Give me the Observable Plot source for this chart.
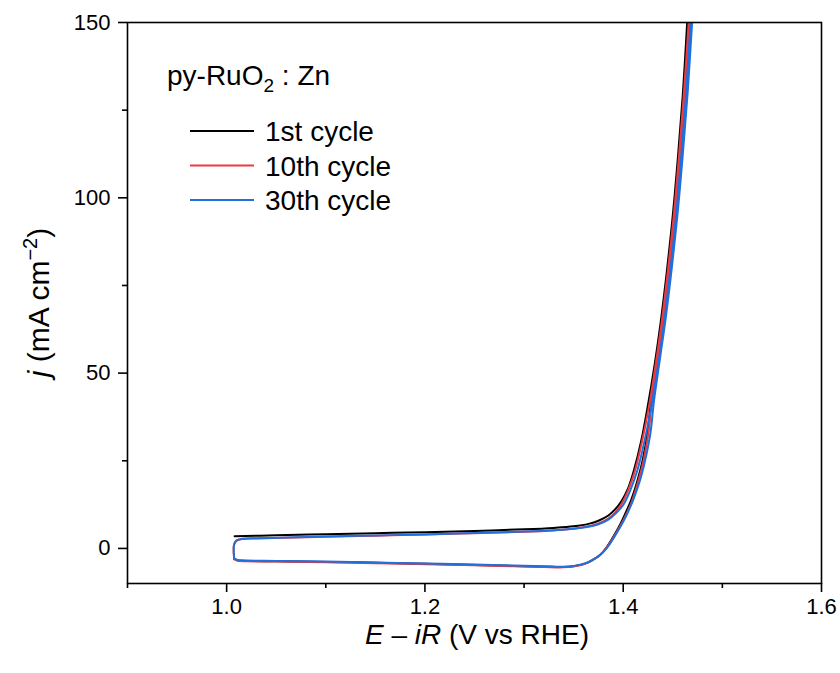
<!DOCTYPE html>
<html>
<head>
<meta charset="utf-8">
<script src="https://cdn.jsdelivr.net/npm/d3@7"></script>
<script src="https://cdn.jsdelivr.net/npm/@observablehq/plot@0.6"></script>
<style>
  html, body { margin: 0; padding: 0; background: #fff; }
  #chart { width: 840px; height: 673px; position: relative; }
  svg { font-family: "Liberation Sans", Arial, sans-serif; }
</style>
</head>
<body>
<div id="chart"></div>
<script>
// ---- data (E − iR in V vs RHE, j in mA cm^-2) ----
const seriesNames = ["1st cycle", "10th cycle", "30th cycle"];
const seriesColors = ["#000000", "#ee3a3f", "#1f6fdc"];

const cycle1 = [
  [1.008,3.5],[1.05,3.75],[1.10,4.05],[1.15,4.35],[1.20,4.65],[1.25,5.0],[1.30,5.45],[1.33,5.85],
  [1.35,6.3],[1.365,7.0],[1.375,7.9],[1.385,9.4],[1.392,11.2],[1.398,13.4],[1.405,17.2],[1.411,22.5],
  [1.418,30.5],[1.425,41],[1.432,53],[1.438,65],[1.444,79],[1.450,95],[1.455,111],[1.460,129],
  [1.4645,150],[1.4675,164],
  [1.4695,164],[1.466,150],[1.4615,130],[1.457,112],[1.452,96],[1.446,80],[1.440,66],[1.434,54],
  [1.428,42],[1.4245,33],[1.4195,25],[1.414,19],[1.408,13.8],[1.402,9.9],[1.3965,6.6],[1.390,3.3],
  [1.383,0.2],[1.376,-2.0],[1.369,-3.3],[1.361,-4.4],[1.351,-5.0],[1.340,-5.3],[1.32,-5.2],[1.29,-5.0],
  [1.25,-4.7],[1.20,-4.4],[1.15,-4.1],[1.10,-3.85],[1.05,-3.65],[1.02,-3.55],[1.011,-3.4],[1.0075,-3.0]
];

const cycle10 = [
  [1.0075,-2.7],[1.0075,1.0],[1.010,2.2],[1.016,2.7],[1.03,2.85],[1.06,3.05],[1.10,3.35],[1.15,3.65],
  [1.20,3.95],[1.25,4.35],[1.30,4.75],[1.33,5.15],[1.35,5.6],[1.365,6.3],[1.375,7.1],[1.385,8.5],
  [1.392,10.3],[1.398,12.5],[1.405,16.6],[1.412,22.3],[1.419,30.5],[1.426,40.5],[1.433,53],[1.439,65],
  [1.445,79],[1.451,95],[1.456,111],[1.461,129],[1.466,150],[1.469,164],
  [1.471,164],[1.4675,150],[1.463,130],[1.458,112],[1.453,96],[1.447,80],[1.441,66],[1.435,54],
  [1.429,42],[1.4255,33],[1.4205,25],[1.415,19],[1.409,13.6],[1.403,9.7],[1.397,6.4],[1.390,3.1],
  [1.383,0.1],[1.376,-2.0],[1.369,-3.3],[1.361,-4.4],[1.351,-5.1],[1.339,-5.4],[1.32,-5.3],[1.29,-5.1],
  [1.25,-4.8],[1.20,-4.5],[1.15,-4.2],[1.10,-3.95],[1.05,-3.75],[1.02,-3.65],[1.011,-3.5],[1.0075,-3.0]
];

const cycle30 = [
  [1.0075,-2.6],[1.0075,1.2],[1.010,2.3],[1.016,2.75],[1.03,2.9],[1.06,3.1],[1.10,3.4],[1.15,3.7],
  [1.20,4.0],[1.25,4.4],[1.30,4.8],[1.33,5.2],[1.35,5.6],[1.365,6.2],[1.375,6.9],[1.385,8.2],
  [1.392,9.9],[1.400,12.4],[1.407,16.5],[1.414,22],[1.421,30],[1.428,40],[1.435,52],[1.441,64],
  [1.447,78],[1.453,94],[1.458,110],[1.463,128],[1.468,150],[1.471,164],
  [1.473,164],[1.4695,150],[1.465,130],[1.460,112],[1.455,96],[1.449,80],[1.443,66],[1.437,54],
  [1.431,42],[1.4275,33],[1.422,25],[1.4165,19],[1.410,13.8],[1.404,9.9],[1.398,6.6],[1.391,3.3],
  [1.384,0.3],[1.377,-1.8],[1.370,-3.1],[1.362,-4.2],[1.352,-4.9],[1.340,-5.2],[1.32,-5.1],[1.29,-4.9],
  [1.25,-4.6],[1.20,-4.3],[1.15,-4.0],[1.10,-3.75],[1.05,-3.55],[1.02,-3.45],[1.011,-3.3],[1.0075,-2.8]
];

const xMajorTicks = [1.0, 1.2, 1.4, 1.6];
const xMinorTicks = [0.9, 1.1, 1.3, 1.5];
const yMajorTicks = [0, 50, 100, 150];
const yMinorTicks = [25, 75, 125];
const sampleLabel = "py-RuO";

// ---- build table ----
const allCycles = [cycle1, cycle10, cycle30];
const rows = [];
allCycles.forEach((c, i) => c.forEach(([E, j], k) => rows.push({cycle: seriesNames[i], E, j, k})));

const W = 840, H = 673;
const mL = 127, mR = 19, mT = 22, mB = 90;
const font = "'Liberation Sans', Arial, sans-serif";

const plot = Plot.plot({
  width: W,
  height: H,
  marginLeft: mL, marginRight: mR, marginTop: mT, marginBottom: mB,
  style: {fontFamily: font, background: "#fff", color: "#000"},
  x: {domain: [0.9, 1.6], label: null},
  y: {domain: [-10, 150], label: null},
  color: {domain: seriesNames, range: seriesColors},
  marks: [
    Plot.line(rows, {x: "E", y: "j", z: "cycle", stroke: "cycle", strokeWidth: 2,
      curve: "catmull-rom", clip: true}),
    Plot.frame({stroke: "#000", strokeWidth: 1.6}),
    Plot.axisX({ticks: xMajorTicks, tickSize: 9, tickPadding: 6, tickFormat: d3.format(".1f"),
      fontSize: 22, strokeWidth: 1.6, label: null}),
    Plot.axisX({ticks: xMinorTicks, tickSize: 5, tickFormat: () => "", strokeWidth: 1.6, label: null}),
    Plot.axisY({ticks: yMajorTicks, tickSize: 9, tickPadding: 8, tickFormat: d3.format("d"),
      fontSize: 22, strokeWidth: 1.6, label: null}),
    Plot.axisY({ticks: yMinorTicks, tickSize: 5, tickFormat: () => "", strokeWidth: 1.6, label: null})
  ]
});

document.getElementById("chart").appendChild(plot);

// ---- titles, annotation and legend as real text ----
const svg = d3.select(plot);
const FS = 28;

// x-axis title: E − iR (V vs RHE)
const xt = svg.append("text")
  .attr("x", (mL + W - mR) / 2 + 3).attr("y", 644)
  .attr("text-anchor", "middle").attr("font-size", FS).attr("font-family", font).attr("fill", "#000");
xt.append("tspan").attr("font-style", "italic").text("E");
xt.append("tspan").text(" \u2013 ");
xt.append("tspan").attr("font-style", "italic").text("iR");
xt.append("tspan").text(" (V vs RHE)");

// y-axis title: j (mA cm^-2)
const yt = svg.append("text")
  .attr("transform", `translate(49,${(mT + H - mB) / 2}) rotate(-90)`)
  .attr("text-anchor", "middle").attr("font-size", 30).attr("font-family", font).attr("fill", "#000");
yt.append("tspan").attr("font-style", "italic").text("j");
yt.append("tspan").text(" (mA cm");
yt.append("tspan").attr("font-size", 20).attr("dy", -12).text("\u22122");
yt.append("tspan").attr("dy", 12).text(")");

// sample annotation: py-RuO2 : Zn
const an = svg.append("text")
  .attr("x", 167).attr("y", 85).attr("text-anchor", "start")
  .attr("font-size", FS).attr("font-family", font).attr("fill", "#000");
an.append("tspan").text(sampleLabel);
an.append("tspan").attr("font-size", 19).attr("dy", 7).text("2");
an.append("tspan").attr("dy", -7).text(" : Zn");

// legend
const lg = svg.append("g");
seriesNames.forEach((name, i) => {
  const cy = 131 + i * 34.5;
  lg.append("line").attr("x1", 190).attr("x2", 254).attr("y1", cy).attr("y2", cy)
    .attr("stroke", seriesColors[i]).attr("stroke-width", 2);
  lg.append("text").attr("x", 265).attr("y", cy + 10).attr("text-anchor", "start")
    .attr("font-size", FS).attr("font-family", font).attr("fill", "#000").text(name);
});
</script>
</body>
</html>
